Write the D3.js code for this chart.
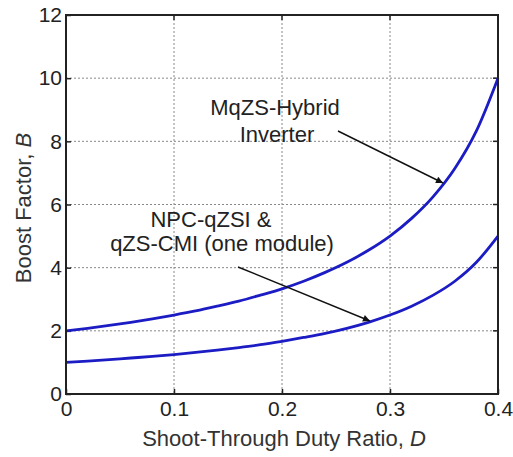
<!DOCTYPE html>
<html>
<head>
<meta charset="utf-8">
<script src="https://cdn.jsdelivr.net/npm/d3@7"></script>
<style>
  body { margin: 0; background: #fff; }
  svg text { font-family: "Liberation Sans", Arial, sans-serif; fill: #222; }
</style>
</head>
<body>
<svg id="chart" width="513" height="457"></svg>
<script>
// Shoot-through duty ratio samples
const dutyRatio = [0, 0.02, 0.04, 0.06, 0.08, 0.10, 0.12, 0.14, 0.16, 0.18, 0.20,
                   0.22, 0.24, 0.26, 0.28, 0.30, 0.32, 0.34, 0.36, 0.38, 0.40];
// Boost factor, MqZS-Hybrid inverter
const boostHybrid = [2.00, 2.08, 2.17, 2.27, 2.38, 2.50, 2.63, 2.78, 2.94, 3.13, 3.33,
                     3.57, 3.85, 4.17, 4.55, 5.00, 5.56, 6.25, 7.14, 8.33, 10.00];
// Boost factor, NPC-qZSI & qZS-CMI (one module)
const boostNpc = [1.00, 1.04, 1.09, 1.14, 1.19, 1.25, 1.32, 1.39, 1.47, 1.56, 1.67,
                  1.79, 1.92, 2.08, 2.27, 2.50, 2.78, 3.13, 3.57, 4.17, 5.00];
const xTicks = [0, 0.1, 0.2, 0.3, 0.4];
const yTicks = [0, 2, 4, 6, 8, 10, 12];

const svg = d3.select("#chart");
const m = { left: 66, top: 15, right: 498, bottom: 394 };

const x = d3.scaleLinear().domain([0, 0.4]).range([m.left, m.right]);
const y = d3.scaleLinear().domain([0, 12]).range([m.bottom, m.top]);

// Dotted grid
const grid = svg.append("g").attr("stroke", "#888").attr("stroke-width", 1)
  .attr("stroke-dasharray", "2,2");
xTicks.slice(1, -1).forEach(t => grid.append("line")
  .attr("x1", x(t)).attr("x2", x(t)).attr("y1", m.top).attr("y2", m.bottom));
yTicks.slice(1, -1).forEach(t => grid.append("line")
  .attr("x1", m.left).attr("x2", m.right).attr("y1", y(t)).attr("y2", y(t)));

// Axes with inward ticks
const xAxis = svg.append("g").attr("transform", `translate(0,${m.bottom})`)
  .call(d3.axisBottom(x).tickValues(xTicks).tickSize(-5).tickPadding(7)
    .tickFormat(d => d === 0 ? "0" : d3.format(".1f")(d)));
const yAxis = svg.append("g").attr("transform", `translate(${m.left},0)`)
  .call(d3.axisLeft(y).tickValues(yTicks).tickSize(-5).tickPadding(4));
[xAxis, yAxis].forEach(a => {
  a.select(".domain").remove();
  a.selectAll(".tick line").attr("stroke", "#222").attr("stroke-width", 1.5);
  a.selectAll(".tick text").attr("font-size", 21).attr("fill", "#333")
    .attr("font-family", "Liberation Sans, Arial, sans-serif");
});
// Right/top inward ticks
yTicks.forEach(t => svg.append("line").attr("x1", m.right).attr("x2", m.right - 5)
  .attr("y1", y(t)).attr("y2", y(t)).attr("stroke", "#222").attr("stroke-width", 1.5));
xTicks.forEach(t => svg.append("line").attr("x1", x(t)).attr("x2", x(t))
  .attr("y1", m.top).attr("y2", m.top + 5).attr("stroke", "#222").attr("stroke-width", 1.5));

// Curves
const line = d3.line().curve(d3.curveMonotoneX);
[boostHybrid, boostNpc].forEach(series => {
  svg.append("path")
    .attr("d", line(dutyRatio.map((d, i) => [x(d), y(series[i])])))
    .attr("fill", "none").attr("stroke", "#1c1cc4").attr("stroke-width", 2.8);
});

// Frame
svg.append("rect").attr("x", m.left).attr("y", m.top)
  .attr("width", m.right - m.left).attr("height", m.bottom - m.top)
  .attr("fill", "none").attr("stroke", "#222").attr("stroke-width", 2);

// Annotations
svg.append("defs").append("marker").attr("id", "head")
  .attr("viewBox", "0 0 10 10").attr("refX", 10).attr("refY", 5)
  .attr("markerWidth", 11).attr("markerHeight", 7).attr("markerUnits", "userSpaceOnUse")
  .attr("orient", "auto")
  .append("path").attr("d", "M0,0 L10,5 L0,10 Z").attr("fill", "#111");

const ann = svg.append("g").attr("font-size", 22).attr("text-anchor", "middle")
  .style("fill", "#333");
ann.append("text").attr("x", 275).attr("y", 115).text("MqZS-Hybrid");
ann.append("text").attr("x", 277).attr("y", 142).text("Inverter");
ann.append("text").attr("x", 211).attr("y", 227).text("NPC-qZSI &");
ann.append("text").attr("x", 222).attr("y", 251).text("qZS-CMI (one module)");

svg.append("line").attr("x1", 338).attr("y1", 131).attr("x2", 443).attr("y2", 183)
  .attr("stroke", "#111").attr("stroke-width", 1.4).attr("marker-end", "url(#head)");
svg.append("line").attr("x1", 238).attr("y1", 267).attr("x2", 370).attr("y2", 321)
  .attr("stroke", "#111").attr("stroke-width", 1.4).attr("marker-end", "url(#head)");

// Axis titles
const xt = svg.append("text").attr("x", 284).attr("y", 446).attr("font-size", 22)
  .attr("text-anchor", "middle").style("fill", "#333");
xt.append("tspan").text("Shoot-Through Duty Ratio, ");
xt.append("tspan").attr("font-style", "italic").text("D");

const yt = svg.append("text").attr("transform", "translate(31,208) rotate(-90)")
  .attr("font-size", 22).attr("text-anchor", "middle").style("fill", "#333");
yt.append("tspan").text("Boost Factor, ");
yt.append("tspan").attr("font-style", "italic").text("B");
</script>
</body>
</html>
